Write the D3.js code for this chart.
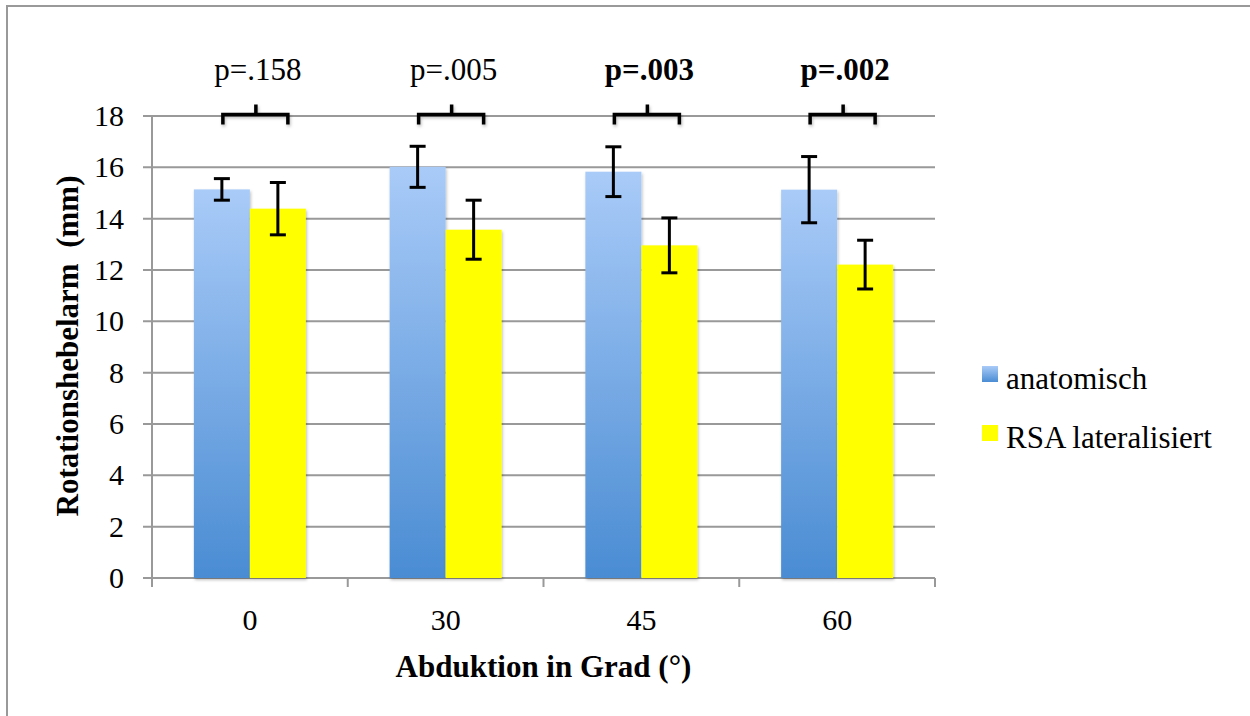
<!DOCTYPE html>
<html>
<head>
<meta charset="utf-8">
<script src="https://cdn.jsdelivr.net/npm/d3@7"></script>
</head>
<body style="margin:0;background:#fff">
<svg id="chart" width="1250" height="716"></svg>
<script>
var categories = ["0", "30", "45", "60"];
var seriesNames = ["anatomisch", "RSA lateralisiert"];
var anatomisch = [15.14, 16.02, 15.83, 15.13];
var anatomischErr = [0.42, 0.8, 0.97, 1.29];
var lateralisiert = [14.39, 13.57, 12.96, 12.21];
var lateralisiertErr = [1.02, 1.15, 1.07, 0.95];
var pLabels = ["p=.158", "p=.005", "p=.003", "p=.002"];
var pBold = [false, false, true, true];
var yTicks = [0, 2, 4, 6, 8, 10, 12, 14, 16, 18];

var FONT = '"Liberation Serif", "Times New Roman", serif';

var svg = d3.select('#chart');
var margin = { left: 152, right: 935, top: 116, bottom: 578 };

var x = d3.scaleBand()
  .domain(categories)
  .range([margin.left, margin.right]);

var y = d3.scaleLinear()
  .domain([0, 18])
  .range([margin.bottom, margin.top]);

var barW = 56;

// gradient + shadow
var defs = svg.append('defs');
var grad = defs.append('linearGradient')
  .attr('id', 'blueGrad')
  .attr('x1', 0).attr('y1', 0).attr('x2', 0).attr('y2', 1);
grad.append('stop').attr('offset', '0%').attr('stop-color', '#a9cbf8');
grad.append('stop').attr('offset', '100%').attr('stop-color', '#4a8cd3');

var shadow = defs.append('filter').attr('id', 'shadow')
  .attr('x', '-20%').attr('y', '-20%').attr('width', '150%').attr('height', '150%');
shadow.append('feDropShadow')
  .attr('dx', 1).attr('dy', 2).attr('stdDeviation', 1.5)
  .attr('flood-color', '#000').attr('flood-opacity', 0.25);

// outer frame
svg.append('rect')
  .attr('x', 7).attr('y', 6)
  .attr('width', 1300).attr('height', 800)
  .attr('fill', 'none')
  .attr('stroke', '#999')
  .attr('stroke-width', 2);

// gridlines
svg.append('g')
  .selectAll('line')
  .data(yTicks)
  .enter().append('line')
    .attr('x1', margin.left - 9)
    .attr('x2', margin.right)
    .attr('y1', function (d) { return y(d); })
    .attr('y2', function (d) { return y(d); })
    .attr('stroke', '#999')
    .attr('stroke-width', 2);

// y axis line
svg.append('line')
  .attr('x1', margin.left).attr('x2', margin.left)
  .attr('y1', y(18)).attr('y2', y(0))
  .attr('stroke', '#999').attr('stroke-width', 2);

// x ticks at band edges
var edges = categories.map(function (c) { return x(c); }).concat([margin.right]);
svg.append('g')
  .selectAll('line')
  .data(edges)
  .enter().append('line')
    .attr('x1', function (d) { return d; })
    .attr('x2', function (d) { return d; })
    .attr('y1', y(0))
    .attr('y2', y(0) + 9)
    .attr('stroke', '#999')
    .attr('stroke-width', 2);

// y tick labels
svg.append('g')
  .selectAll('text')
  .data(yTicks)
  .enter().append('text')
    .attr('x', 124)
    .attr('y', function (d) { return y(d) + 10; })
    .attr('text-anchor', 'end')
    .style('font-family', FONT)
    .style('font-size', '30px')
    .text(function (d) { return d; });

// x tick labels
svg.append('g')
  .selectAll('text')
  .data(categories)
  .enter().append('text')
    .attr('x', function (d) { return x(d) + x.bandwidth() / 2; })
    .attr('y', 630)
    .attr('text-anchor', 'middle')
    .style('font-family', FONT)
    .style('font-size', '30px')
    .text(function (d) { return d; });

// axis titles
svg.append('text')
  .attr('x', (margin.left + margin.right) / 2)
  .attr('y', 677)
  .attr('text-anchor', 'middle')
  .style('font-family', FONT)
  .style('font-size', '31px')
  .style('font-weight', 'bold')
  .text('Abduktion in Grad (°)');

svg.append('text')
  .attr('transform', 'translate(78,346) rotate(-90)')
  .attr('text-anchor', 'middle')
  .style('font-family', FONT)
  .style('font-size', '31px')
  .style('font-weight', 'bold')
  .style('white-space', 'pre')
  .text('Rotationshebelarm  (mm)');

// bars
var rows = categories.map(function (c, i) {
  return { cat: c, a: anatomisch[i], aErr: anatomischErr[i], l: lateralisiert[i], lErr: lateralisiertErr[i], p: pLabels[i], bold: pBold[i] };
});

var groups = svg.append('g')
  .selectAll('g')
  .data(rows)
  .enter().append('g')
    .attr('transform', function (d) { return 'translate(' + (x(d.cat) + x.bandwidth() / 2) + ',0)'; });

groups.append('rect')
  .attr('x', -barW)
  .attr('y', function (d) { return y(d.a); })
  .attr('width', barW)
  .attr('height', function (d) { return y(0) - y(d.a); })
  .attr('fill', 'url(#blueGrad)')
  .attr('filter', 'url(#shadow)');

groups.append('rect')
  .attr('x', 0)
  .attr('y', function (d) { return y(d.l); })
  .attr('width', barW)
  .attr('height', function (d) { return y(0) - y(d.l); })
  .attr('fill', '#ffff00')
  .attr('filter', 'url(#shadow)');

// error bars
function errorBar(sel, cx, val, err) {
  var g = sel.append('g').attr('stroke', '#000').attr('stroke-width', 3).attr('fill', 'none');
  g.append('line')
    .attr('x1', cx).attr('x2', cx)
    .attr('y1', function (d) { return y(val(d) + err(d)); })
    .attr('y2', function (d) { return y(val(d) - err(d)); });
  g.append('line')
    .attr('x1', cx - 8).attr('x2', cx + 8)
    .attr('y1', function (d) { return y(val(d) + err(d)); })
    .attr('y2', function (d) { return y(val(d) + err(d)); });
  g.append('line')
    .attr('x1', cx - 8).attr('x2', cx + 8)
    .attr('y1', function (d) { return y(val(d) - err(d)); })
    .attr('y2', function (d) { return y(val(d) - err(d)); });
}
errorBar(groups, -barW / 2, function (d) { return d.a; }, function (d) { return d.aErr; });
errorBar(groups, barW / 2, function (d) { return d.l; }, function (d) { return d.lErr; });

// significance brackets
groups.append('path')
  .attr('d', function () {
    var top = y(18) - 1.5;
    return 'M-27,' + (top + 10) +
      'V' + top + 'H38V' + (top + 10) +
      'M6,' + top + 'V' + (top - 10);
  })
  .attr('fill', 'none')
  .attr('stroke', '#000')
  .attr('stroke-width', 3.5)
  .attr('filter', 'url(#shadow)');

groups.append('text')
  .attr('x', 8)
  .attr('y', 80)
  .attr('text-anchor', 'middle')
  .style('font-family', FONT)
  .style('font-size', '31px')
  .style('font-weight', function (d) { return d.bold ? 'bold' : 'normal'; })
  .text(function (d) { return d.p; });

// legend
var legend = svg.append('g')
  .selectAll('g')
  .data(seriesNames)
  .enter().append('g')
    .attr('transform', function (d, i) { return 'translate(982,' + (366 + i * 59) + ')'; });

legend.append('rect')
  .attr('width', 16).attr('height', 16)
  .attr('fill', function (d, i) { return i === 0 ? 'url(#blueGrad)' : '#ffff00'; });

legend.append('text')
  .attr('x', 24)
  .attr('y', 23)
  .style('font-family', FONT)
  .style('font-size', '31px')
  .text(function (d) { return d; });
</script>
</body>
</html>
